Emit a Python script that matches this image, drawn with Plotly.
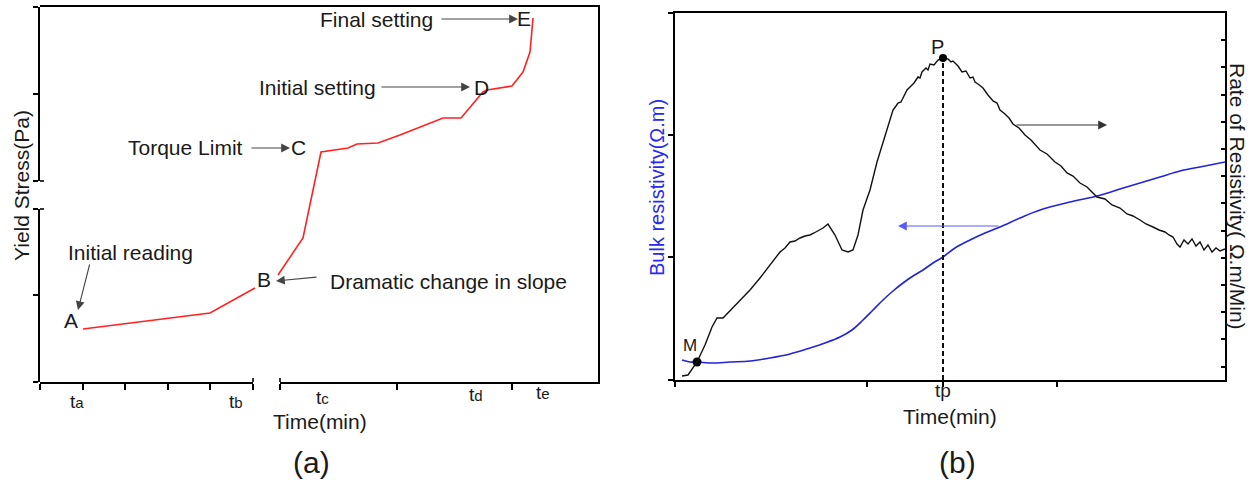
import plotly.graph_objects as go

W, H = 1257, 483
FONT = "Liberation Sans, Arial, sans-serif"
TXT = "#1a1a1a"

# ---------------- Panel (a): yield stress vs time (arbitrary units) ----------------
a_seg1_t = [43, 170, 215]
a_seg1_y = [53, 69, 94]
a_seg2_t = [238, 263, 281, 308, 317, 338, 360, 403, 421, 443, 447, 472, 483, 490, 493]
a_seg2_y = [107, 144, 230, 234, 238, 239, 247, 264, 264, 290, 292, 296, 310, 330, 364]

a_point_labels = ["A", "B", "C", "D", "E"]
a_point_t = [31, 224, 258, 441, 484]
a_point_y = [62, 103, 234, 294, 363]

a_tick_letters = ["a", "b", "c", "d", "e"]
a_tick_t = [37, 196, 282, 436, 503]
a_tick_py = [401, 401, 397, 394, 392]

a_xticks_left = [0, 43, 85, 128, 170, 213]
a_xticks_right = [240, 357, 472]
a_yticks_low = [0, 87, 173]
a_yticks_high = [201, 288, 375]
a_xrange = [0, 558]
a_yrange = [0, 375]
a_xbreak = [213, 240]
a_ybreak = [173, 201]

a_notes = ["Initial reading", "Torque Limit", "Initial setting", "Final setting",
           "Dramatic change in slope"]
a_note_t = [90, 145, 277, 336, 408]
a_note_y = [129, 234, 294, 362, 101]
# arrows: (tail_t, tail_y, head_t, head_y)
a_arrows = [(50, 119, 38, 72), (210, 234, 250, 234), (340, 295, 430, 295),
            (400, 363, 478, 363), (278, 105, 236, 101)]

# ---------------- Panel (b): resistivity vs time (arbitrary units) ----------------
rate_t = [7, 13, 22, 30, 37, 42, 48, 55, 65, 75, 85, 95, 105, 110, 115, 120, 125, 130,
          135, 139, 143, 148, 153, 160, 167, 173, 178, 183, 188, 195, 202, 210, 218, 221,
          223, 226, 228, 232, 236, 239, 243, 245, 247, 251, 253, 255, 259, 263, 268, 273,
          276, 278, 283, 287, 291, 295, 298, 300, 303, 305, 308, 313, 318, 322, 325, 330,
          334, 338, 344, 350, 356, 365, 372, 380, 386, 392, 398, 405, 412, 422, 430, 437,
          445, 452, 458, 465, 471, 478, 484, 490, 494, 498, 502, 505, 509, 513, 517, 521,
          525, 529, 533, 537, 541, 545, 550]
rate_y = [4, 5, 18, 35, 53, 62, 62, 69, 80, 90, 102, 115, 128, 132, 138, 139, 142, 144,
          145, 147, 149, 152, 156, 145, 130, 128, 130, 145, 170, 190, 218, 245, 270, 274,
          277, 278, 282, 290, 294, 297, 303, 302, 308, 312, 310, 316, 315, 320, 322, 321,
          318, 319, 314, 308, 309, 302, 303, 298, 296, 294, 292, 285, 279, 277, 270, 266,
          262, 256, 252, 245, 240, 230, 226, 218, 214, 207, 204, 197, 193, 183, 181, 175,
          172, 166, 164, 160, 156, 153, 150, 148, 145, 143, 136, 133, 140, 136, 141, 134,
          138, 130, 135, 128, 132, 129, 131]

bulk_t = [7, 15, 22, 38, 55, 75, 95, 115, 135, 150, 165, 177, 188, 198, 208, 218, 228,
          238, 248, 258, 268, 280, 295, 310, 325, 345, 365, 395, 422, 445, 465, 485, 505,
          525, 550]
bulk_y = [20, 18, 18, 17, 18, 19, 22, 26, 32, 37, 43, 50, 60, 70, 80, 89, 97, 104, 110,
          117, 123, 132, 140, 147, 153, 162, 170, 178, 184, 191, 197, 203, 209, 213, 218]

b_xrange = [0, 550]
b_yrange = [0, 367]
b_xticks = [0, 192, 268, 382]
b_yticks_left = [0, 123, 245, 367]
b_right_tick0, b_right_dtick = 13.4, 27.2

# ---------------- helpers ----------------
def px(x):
    return x / W

def py(y):
    return 1 - y / H

a_dom_x = [px(40), px(598)]
a_dom_y = [py(382), py(7)]
b_dom_x = [px(675), px(1225)]
b_dom_y = [py(380), py(13)]

def a_fx(t):
    return a_dom_x[0] + (t - a_xrange[0]) / (a_xrange[1] - a_xrange[0]) * (a_dom_x[1] - a_dom_x[0])

def a_fy(y):
    return a_dom_y[0] + (y - a_yrange[0]) / (a_yrange[1] - a_yrange[0]) * (a_dom_y[1] - a_dom_y[0])

fig = go.Figure()

# panel (a) curve
fig.add_trace(go.Scatter(x=a_seg1_t + [None] + a_seg2_t, y=a_seg1_y + [None] + a_seg2_y,
                         mode="lines", line=dict(color="#ff2222", width=1.6),
                         xaxis="x", yaxis="y", showlegend=False, hoverinfo="skip"))
# empty traces so that the broken-axis segments get drawn
for xa, ya in [("x3", "y"), ("x4", "y"), ("x", "y4"), ("x", "y5")]:
    fig.add_trace(go.Scatter(x=[], y=[], xaxis=xa, yaxis=ya, showlegend=False))

# panel (b) curves
fig.add_trace(go.Scatter(x=bulk_t, y=bulk_y, mode="lines", line_shape="spline",
                         line=dict(color="#2222dd", width=1.6),
                         xaxis="x2", yaxis="y2", showlegend=False))
fig.add_trace(go.Scatter(x=rate_t, y=rate_y, mode="lines",
                         line=dict(color="#111111", width=1.4),
                         xaxis="x2", yaxis="y3", showlegend=False))

ip = max(range(len(rate_y)), key=lambda i: rate_y[i])
tp, yp = rate_t[ip], rate_y[ip]
fig.add_trace(go.Scatter(x=[tp, tp], y=[0, yp], mode="lines",
                         line=dict(color="#111111", width=2, dash="5px,3px"),
                         xaxis="x2", yaxis="y3", showlegend=False))
fig.add_trace(go.Scatter(x=[tp], y=[yp], mode="markers",
                         marker=dict(color="black", size=8),
                         xaxis="x2", yaxis="y3", showlegend=False))
fig.add_trace(go.Scatter(x=[bulk_t[2]], y=[bulk_y[2]], mode="markers",
                         marker=dict(color="black", size=9),
                         xaxis="x2", yaxis="y2", showlegend=False))

shapes = []
def seg(t0, y0, t1, y1, w=1.6):
    shapes.append(dict(type="line", xref="paper", yref="paper", x0=a_fx(t0), y0=a_fy(y0),
                       x1=a_fx(t1), y1=a_fy(y1), layer="above",
                       line=dict(color="#000000", width=w)))

# small caps at the axis breaks of panel (a)
for xb in a_xbreak:
    seg(xb, a_yrange[0], xb, a_yrange[0] + 4)
for yb in a_ybreak:
    seg(a_xrange[0], yb, a_xrange[0] + 4, yb)

ann = []
def text(x, y, s, size, xref="x", yref="y", color=TXT, angle=0, xanchor="center"):
    ann.append(dict(x=x, y=y, xref=xref, yref=yref, text=s, showarrow=False,
                    textangle=angle, xanchor=xanchor, yanchor="middle",
                    font=dict(family=FONT, size=size, color=color)))

for lab, t, y in zip(a_point_labels, a_point_t, a_point_y):
    text(t, y, lab, 21)
for s, t, y in zip(a_notes, a_note_t, a_note_y):
    text(t, y, s, 21)
for (tt, ty, ht, hy) in a_arrows:
    ann.append(dict(x=ht, y=hy, ax=tt, ay=ty, xref="x", yref="y", axref="x", ayref="y",
                    text="", showarrow=True, arrowhead=2, arrowsize=1.6, arrowwidth=1.1,
                    arrowcolor="#444444", standoff=0))
for letter, t, ypix in zip(a_tick_letters, a_tick_t, a_tick_py):
    text(t, py(ypix), "t<span style='font-size:15px'>" + letter + "</span>", 19, yref="paper")
text(px(320), py(421), "Time(min)", 21, xref="paper", yref="paper")
text(px(311), py(462), "(a)", 30, xref="paper", yref="paper")
text(px(21), py(186), "Yield Stress(Pa)", 21, xref="paper", yref="paper", angle=-90)

# panel (b) texts
text(tp - 6, yp + 11, "P", 20, xref="x2", yref="y3")
text(bulk_t[2] - 7, bulk_y[2] + 17, "M", 17, xref="x2", yref="y2")
text(tp, py(390), "tp", 19, xref="x2", yref="paper")
text(px(950), py(416), "Time(min)", 21, xref="paper", yref="paper")
text(px(957), py(462), "(b)", 30, xref="paper", yref="paper")
text(px(657), py(188), "Bulk resistivity(Ω.m)", 20, xref="paper", yref="paper",
     color="#2a2aee", angle=-90)
text(px(1238), py(196), "Rate of Resistivity( Ω.m/Min)", 21, xref="paper", yref="paper",
     angle=90)
ann.append(dict(x=432, y=255, ax=340, ay=255, xref="x2", yref="y3", axref="x2", ayref="y3",
                text="", showarrow=True, arrowhead=2, arrowsize=1.6, arrowwidth=1.1,
                arrowcolor="#333333", standoff=0))
ann.append(dict(x=223, y=154, ax=325, ay=154, xref="x2", yref="y2", axref="x2", ayref="y2",
                text="", showarrow=True, arrowhead=2, arrowsize=1.6, arrowwidth=1.1,
                arrowcolor="#5a5aff", standoff=0))

common = dict(showgrid=False, zeroline=False, showticklabels=False, tickcolor="black",
              tickwidth=1.5, fixedrange=True)
line = dict(showline=True, linecolor="black", linewidth=2)

fig.update_layout(
    width=W, height=H, margin=dict(l=0, r=0, t=0, b=0),
    paper_bgcolor="white", plot_bgcolor="rgba(0,0,0,0)", showlegend=False,
    # panel (a) data axes: their lines form the top and right border
    xaxis=dict(domain=a_dom_x, range=a_xrange, anchor="y", side="top", ticks="",
               **line, **common),
    yaxis=dict(domain=a_dom_y, range=a_yrange, anchor="x", side="right", ticks="",
               **line, **common),
    # panel (a) broken bottom and left axis segments
    xaxis3=dict(domain=[a_fx(a_xrange[0]), a_fx(a_xbreak[0])], range=[a_xrange[0], a_xbreak[0]],
                anchor="y", ticks="outside", tickmode="array", tickvals=a_xticks_left,
                ticklen=6, **line, **common),
    xaxis4=dict(domain=[a_fx(a_xbreak[1]), a_fx(a_xrange[1])], range=[a_xbreak[1], a_xrange[1]],
                anchor="y", ticks="outside", tickmode="array", tickvals=a_xticks_right,
                ticklen=6, **line, **common),
    yaxis4=dict(domain=[a_fy(a_yrange[0]), a_fy(a_ybreak[0])], range=[a_yrange[0], a_ybreak[0]],
                anchor="x", ticks="outside", tickmode="array", tickvals=a_yticks_low,
                ticklen=5, **line, **common),
    yaxis5=dict(domain=[a_fy(a_ybreak[1]), a_fy(a_yrange[1])], range=[a_ybreak[1], a_yrange[1]],
                anchor="x", ticks="outside", tickmode="array", tickvals=a_yticks_high,
                ticklen=5, **line, **common),
    xaxis2=dict(domain=b_dom_x, range=b_xrange, anchor="y2", mirror=True,
                ticks="outside", tickmode="array", tickvals=b_xticks, ticklen=5,
                **line, **common),
    yaxis2=dict(domain=b_dom_y, range=b_yrange, anchor="x2", ticks="outside",
                tickmode="array", tickvals=b_yticks_left, ticklen=5, **line, **common),
    yaxis3=dict(domain=b_dom_y, range=b_yrange, anchor="x2", overlaying="y2", side="right",
                ticks="inside", tickmode="linear", tick0=b_right_tick0, dtick=b_right_dtick,
                ticklen=4, **line, **common),
    shapes=shapes, annotations=ann,
)

fig.write_html("out.html")
